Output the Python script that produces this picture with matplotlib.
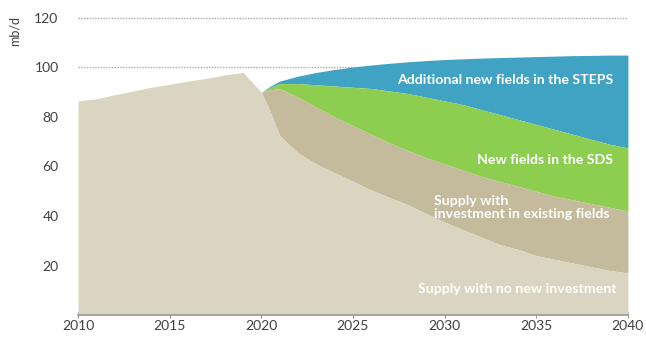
import numpy as np
import matplotlib.pyplot as plt

plt.rcParams['font.family'] = ['Lato', 'DejaVu Sans']

# historical supply 2010-2020
hist_years = np.arange(2010, 2021)
hist_supply = [86.5, 87.3, 89, 90.5, 92, 93.2, 94.5, 95.6, 97, 98, 90]

# projections 2020-2040 (half-year step right after 2020 where the drop is steep)
proj_years = np.concatenate([[2020, 2020.5], np.arange(2021, 2041)])
no_new_invest = [90, 82, 72.5, 65.5, 61, 57.5, 54, 50.5, 47.5, 44.5, 41, 37.5,
                 34.5, 31.5, 28.5, 26.5, 24, 22.5, 21, 19.5, 18, 17]
existing_fields = [90, 91, 91.5, 88, 84, 80, 76.5, 73, 69.5, 66.5, 63.5, 61,
                   58.5, 56, 54, 52, 50, 48, 46.5, 45, 43.5, 42]
sds_new_fields = [90, 92, 93.5, 93.5, 93, 92.5, 92, 91.5, 90.5, 89.5, 88, 86.5,
                  85, 83, 81, 79, 77, 75, 73, 71, 69, 67.5]
steps_new_fields = [90, 92.5, 94.5, 96.5, 98, 99.2, 100.2, 101, 101.7, 102.3, 102.8, 103.2,
                    103.5, 103.8, 104, 104.2, 104.4, 104.6, 104.8, 104.9, 105, 105]

c_light = '#DAD5C0'
c_dark = '#C4BA9C'
c_green = '#8DCD50'
c_blue = '#41A3C4'

fig = plt.figure(figsize=(6.46, 3.40), dpi=100)
ax = fig.add_axes([0.1207, 0.0735, 0.8513, 0.91])

years_all = np.concatenate([hist_years, proj_years[1:]])
base_all = np.concatenate([hist_supply, no_new_invest[1:]])

ax.fill_between(proj_years, sds_new_fields, steps_new_fields, color=c_blue, lw=0, zorder=2)
ax.fill_between(proj_years, existing_fields, sds_new_fields, color=c_green, lw=0, zorder=2)
ax.fill_between(proj_years, no_new_invest, existing_fields, color=c_dark, lw=0, zorder=2)
ax.fill_between(years_all, 0, base_all, color=c_light, lw=0, zorder=3)

for yv in [100, 120]:
    ax.axhline(yv, color='#AAAAAA', lw=1.0, ls=(0, (1, 1)), zorder=1)

ax.set_xlim(2010, 2040)
ax.set_ylim(0, 125)
ax.set_xticks([2010, 2015, 2020, 2025, 2030, 2035, 2040])
ax.set_yticks([20, 40, 60, 80, 100, 120])
for s in ['top', 'right', 'left']:
    ax.spines[s].set_visible(False)
ax.spines['bottom'].set_color('#999999')
ax.spines['bottom'].set_linewidth(1.2)
ax.spines['bottom'].set_zorder(5)
ax.tick_params(axis='x', direction='inout', length=5, color='#999999',
               labelsize=10, labelcolor='#404040', pad=1)
ax.tick_params(axis='y', length=0, labelsize=10, labelcolor='#404040', pad=14)

fig.text(0.022, 0.91, 'mb/d', rotation=90, fontsize=9, color='#404040',
         ha='center', va='center')

txt = dict(color='white', fontweight='bold', fontsize=10.2, zorder=6)
ax.text(2039.2, 95, 'Additional new fields in the STEPS', ha='right', va='center', **txt)
ax.text(2039.2, 62.5, 'New fields in the SDS', ha='right', va='center', **txt)
ax.text(2029.4, 43.5, 'Supply with\ninvestment in existing fields', ha='left',
        va='center', linespacing=1.15, **txt)
ax.text(2039.4, 10.5, 'Supply with no new investment', ha='right', va='center', **txt)

fig.savefig('out.png', dpi=100)
